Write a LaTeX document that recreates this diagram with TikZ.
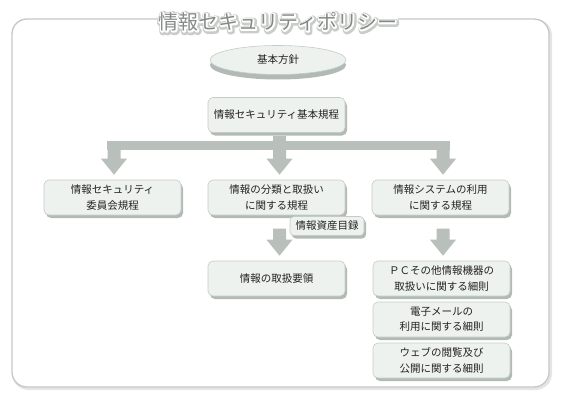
\documentclass[tikz,border=0pt]{standalone}
\usepackage{fontspec}
\newfontfamily\jp{Noto Sans CJK JP}
\usetikzlibrary{calc,shapes.geometric,shadows}
\definecolor{fillc}{HTML}{EEF2EF}
\definecolor{bordc}{HTML}{C4CCC8}
\definecolor{shadc}{HTML}{B2BAB6}
\definecolor{arrc}{HTML}{B9C0BC}
\definecolor{txtc}{HTML}{222222}
\definecolor{titc}{HTML}{858A87}
\definecolor{outc}{HTML}{C2CAC6}
\newcommand\bigarr[2]{%
  \fill[arrc] let \p1=#1, \p2=#2 in
   (\x1-6.5pt,\y1) -- (\x1+6.5pt,\y1) -- (\x1+6.5pt,\y2+16pt) -- (\x1+13pt,\y2+16pt)
   -- (\x1,\y2) -- (\x1-13pt,\y2+16pt) -- (\x1-6.5pt,\y2+16pt) -- cycle;}
\newcommand\titletxt{情報セキュリティポリシー}
\newcommand\strokedtext[2]{\special{pdf:literal direct 1 j 1 J #1 w #2 RG 2 Tr}\titletxt\special{pdf:literal direct 0 Tr}}
\begin{document}
\begin{tikzpicture}[x=1pt,y=-1pt,
  pbox/.style={rectangle, rounded corners=5pt, draw=bordc, fill=fillc, line width=0.6pt,
    minimum width=137, minimum height=35, align=center, text=txtc, inner sep=0pt,
    font=\jp\fontsize{10.5}{15.5}\selectfont,
    drop shadow={shadow xshift=2pt, shadow yshift=-3pt, fill=shadc, opacity=1}},
  tagbox/.style={pbox, minimum width=74, minimum height=19, rounded corners=4pt,
    drop shadow={shadow xshift=1.5pt, shadow yshift=-2pt, fill=shadc, opacity=1}},
  ellbox/.style={ellipse, draw=bordc, fill=fillc, line width=0.6pt, minimum width=136,
    minimum height=29, text=txtc, inner sep=0pt, font=\jp\fontsize{10.5}{15.5}\selectfont,
    drop shadow={shadow xshift=0pt, shadow yshift=-5pt, fill=shadc, opacity=1}},
  titfont/.style={font=\jp\fontsize{20}{20}\selectfont, inner sep=0pt}]
\useasboundingbox (0,0) rectangle (561,404);
% outer frame
\draw[black!10, line width=3pt, rounded corners=15pt] (13.5,20.5) rectangle (550.5,388.5);
\draw[outc, fill=white, line width=1.3pt, rounded corners=15pt] (12,19) rectangle (549,387);
% title: halo, white outline, gray letters
\fill[white] (158,12) rectangle (398,31);
\node[titfont, text=black!22] (tglow) at (278.8,23) {\strokedtext{6}{0.79 0.80 0.79}};
\node[titfont, text=white] (twhite) at (278,22) {\strokedtext{2.8}{1 1 1}};
\node[titfont, text=titc] (title) at (278,22) {\titletxt};
% nodes
\node[ellbox] (pol) at (278,60) {基本方針};
\node[pbox] (b0) at (276.5,115) {情報セキュリティ基本規程};
\node[pbox] (r1) at (112.5,197.5) {情報セキュリティ\\委員会規程};
\node[pbox] (r2) at (276.5,197.5) {情報の分類と取扱い\\に関する規程};
\node[pbox] (r3) at (440.5,197.5) {情報システムの利用\\に関する規程};
\node[tagbox] (tag) at (327,226) {情報資産目録};
\node[pbox] (r2b) at (276.5,278.5) {情報の取扱要領};
\node[pbox] (d1) at (441.5,278.5) {ＰＣその他情報機器の\\取扱いに関する細則};
\node[pbox] (d2) at (441.5,319.5) {電子メールの\\利用に関する細則};
\node[pbox] (d3) at (441.5,360.5) {ウェブの閲覧及び\\公開に関する細則};
% arrows
\fill[arrc] ($(b0.south)+(-3.5,3)$) rectangle ($(b0.south)+(9.5,13)$);
\fill[arrc] ($(r1.north)+(-5.5,-39)$) rectangle ($(r3.north)+(9.5,-30)$);
\bigarr{($(r1.north)+(1.5,-31)$)}{($(r1.north)+(1.5,-5)$)}
\bigarr{($(r2.north)+(3,-31)$)}{($(r2.north)+(3,-5)$)}
\bigarr{($(r3.north)+(2.5,-31)$)}{($(r3.north)+(2.5,-5)$)}
\bigarr{($(r2b.north)+(3,-32)$)}{($(r2b.north)+(3,-5)$)}
\bigarr{($(d1.north)+(1.5,-32)$)}{($(d1.north)+(1.5,-5)$)}
\end{tikzpicture}
\end{document}
